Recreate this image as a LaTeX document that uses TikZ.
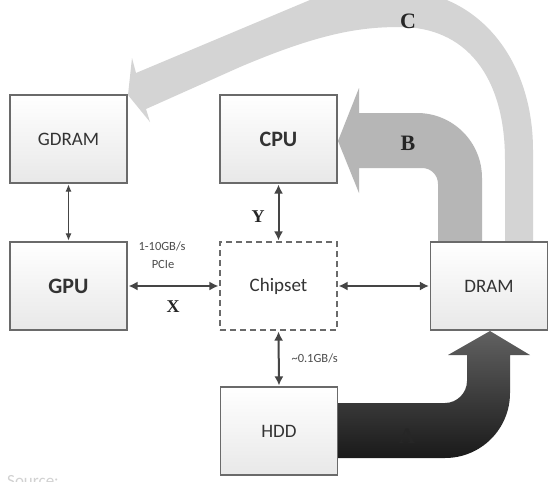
\documentclass[tikz,border=0pt]{standalone}
\usepackage{fontspec}
\setmainfont{Carlito}
\newfontfamily\lblfont{Liberation Serif}
\usetikzlibrary{arrows.meta}
\definecolor{boxline}{HTML}{6A6A6A}
\definecolor{txt}{HTML}{333333}
\definecolor{arrc}{HTML}{454545}
\definecolor{cgray}{HTML}{D4D4D4}
\definecolor{bgray}{HTML}{B6B6B6}
\begin{document}
\begin{tikzpicture}[x=1pt,y=-1pt,
 box/.style={draw=boxline, line width=1.1pt, minimum width=117pt, minimum height=88pt, inner sep=0pt, top color=white, bottom color=black!9, text=txt, font=\fontsize{19}{22}\selectfont},
 boldbox/.style={box, font=\fontsize{22}{26}\selectfont\bfseries},
 dashbox/.style={draw=boxline, line width=1.1pt, dash pattern=on 6pt off 4pt, fill=white, minimum width=117pt, minimum height=88pt, inner sep=0pt, text=txt, font=\fontsize{19}{22}\selectfont},
 link/.style={draw=arrc, line width=2pt, {Latex[length=9pt,width=9pt]}-{Latex[length=9pt,width=9pt]}, shorten >=1pt, shorten <=1pt},
 thinlink/.style={draw=arrc, line width=0.9pt, {Latex[length=7pt,width=6pt]}-{Latex[length=7pt,width=6pt]}, shorten >=1pt, shorten <=1pt},
 lbl/.style={font=\lblfont\bfseries\fontsize{22}{26}\selectfont, text=black!85},
 smlbl/.style={font=\lblfont\bfseries\fontsize{18}{21}\selectfont, text=black!85},
 small/.style={font=\fontsize{12.5}{15}\selectfont, text=black!70}
]
\useasboundingbox (0,0) rectangle (555,482);
\clip (0,0) rectangle (555,482);
\fill[white] (0,0) rectangle (555,482);

% big arrow C
\fill[cgray] (533,242) -- (533,150) .. controls (533,70) and (490,5) .. (420,-8)
  .. controls (390,-13) and (350,-8) .. (310,0) -- (136,73) -- (132,58) -- (128,95)
  -- (150,122) -- (146,109) -- (240,67) .. controls (320,33) and (360,27) .. (400,27)
  .. controls (465,27) and (505,75) .. (505,160) -- (505,242) -- cycle;
% big arrow B
\fill[bgray] (482,242) -- (482,178) .. controls (482,142) and (453,113) .. (417,113)
  -- (359,113) -- (359,88) -- (338,141) -- (359,193) -- (359,168) -- (422,168)
  .. controls (431,168) and (438,175) .. (438,184) -- (438,242) -- cycle;
% big arrow A
\shade[top color=black!62, bottom color=black!90] (337,403) -- (445,403) .. controls (457,403) and (467,393) .. (467,381)
  -- (467,355) -- (448,355) -- (490,331) -- (530,355) -- (510,355) -- (510,393)
  .. controls (510,429) and (481,458) .. (445,458) -- (337,458) -- cycle;

% boxes
\node[box] (gdram) at (68.5,139) {GDRAM};
\node[boldbox] (cpu) at (278.5,139) {CPU};
\node[boldbox] (gpu) at (68.5,286) {GPU};
\node[dashbox] (chip) at (278.5,286) {Chipset};
\node[box] (dram) at (489,286) {DRAM};
\node[box] (hdd) at (279,431) {HDD};

% connectors
\draw[thinlink] (gdram.south) -- (gpu.north);
\draw[link] (cpu.south) -- (chip.north);
\draw[link] (gpu.east) -- (chip.west);
\draw[link] (chip.east) -- (dram.west);
\draw[link] (chip.south) -- (hdd.north);

% labels
\node[small] (bw) at (162,246) {1-10GB/s};
\node[small] (pcie) at (163,264) {PCIe};
\node[small, anchor=west] (hddbw) at (288,358) {\textasciitilde0.1GB/s};
\node[smlbl] (lx) at (173,307) {X};
\node[smlbl] (ly) at (258,217) {Y};
\node[lbl] (la) at (407,436) {A};
\node[lbl] (lb) at (408,143) {B};
\node[lbl] (lc) at (408,21) {C};
\node[anchor=base west, inner sep=0pt, text=black!18, font=\fontsize{17}{20}\selectfont] (src) at (7,486) {Source:};
\end{tikzpicture}
\end{document}
